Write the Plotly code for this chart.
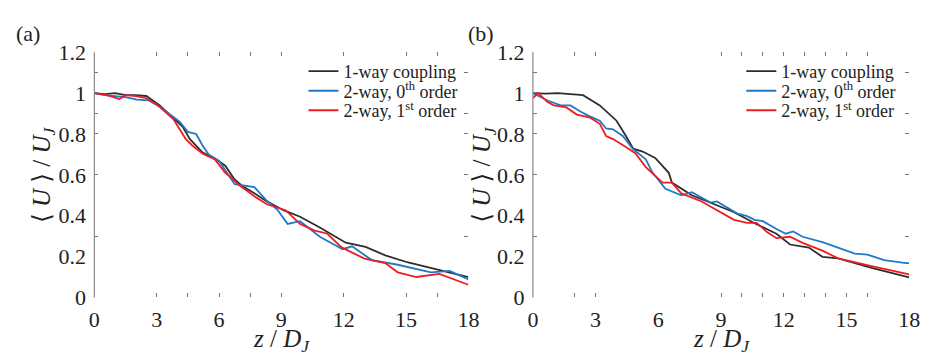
import plotly.graph_objects as go

# ---------------- data ----------------
# Panel (a)
za_black = [0, 0.5, 1.0, 1.5, 2.0, 2.5, 3.15, 3.6, 4.25, 4.6, 5.2, 5.8, 6.3, 6.75, 7.1, 7.7, 8.3, 9.1, 9.9, 10.85, 12.1, 13.05, 14.0, 15.1, 16.2, 17.7, 18.0]
ua_black = [1.0, 0.995, 1.0, 0.99, 0.99, 0.986, 0.94, 0.895, 0.835, 0.775, 0.71, 0.68, 0.645, 0.577, 0.547, 0.51, 0.47, 0.427, 0.395, 0.342, 0.268, 0.247, 0.206, 0.171, 0.145, 0.108, 0.1]

za_blue = [0, 0.5, 1.0, 1.5, 2.05, 2.6, 3.2, 3.8, 4.1, 4.5, 4.9, 5.2, 5.5, 6.0, 6.3, 6.6, 6.75, 7.7, 8.3, 8.8, 9.3, 9.9, 10.85, 11.95, 12.4, 13.35, 14.6, 16.2, 17.1, 18.0]
ua_blue = [1.0, 0.99, 0.985, 0.98, 0.968, 0.965, 0.93, 0.886, 0.86, 0.81, 0.8, 0.745, 0.70, 0.668, 0.62, 0.577, 0.555, 0.54, 0.473, 0.43, 0.36, 0.373, 0.297, 0.236, 0.25, 0.183, 0.16, 0.123, 0.13, 0.088]

za_red = [0, 0.6, 1.2, 1.5, 2.0, 2.5, 3.0, 3.8, 4.4, 4.7, 5.2, 5.8, 6.3, 6.6, 6.9, 7.7, 8.3, 9.2, 9.9, 10.6, 11.2, 11.9, 13.0, 14.0, 14.6, 15.5, 16.6, 17.5, 18.0]
ua_red = [1.0, 0.99, 0.971, 0.99, 0.985, 0.975, 0.945, 0.873, 0.775, 0.745, 0.705, 0.675, 0.61, 0.586, 0.555, 0.495, 0.456, 0.427, 0.36, 0.327, 0.313, 0.245, 0.19, 0.168, 0.123, 0.1, 0.115, 0.08, 0.062]

# Panel (b)
zb_black = [0, 0.6, 1.2, 1.8, 2.4, 3.2, 4.0, 4.45, 4.8, 5.25, 5.85, 6.5, 6.65, 7.6, 8.7, 9.6, 10.7, 11.65, 12.3, 13.2, 13.85, 14.6, 16.2, 17.85, 18.0]
ub_black = [1.0, 0.998, 1.0, 0.995, 0.99, 0.94, 0.865, 0.79, 0.728, 0.714, 0.683, 0.61, 0.562, 0.5, 0.456, 0.418, 0.358, 0.312, 0.259, 0.244, 0.199, 0.191, 0.145, 0.1, 0.098]

zb_blue = [0, 0.7, 1.33, 1.8, 2.27, 2.74, 3.2, 3.5, 3.83, 4.3, 4.77, 5.4, 5.7, 6.34, 7.1, 7.6, 8.5, 8.8, 9.8, 10.25, 10.6, 11.0, 11.65, 12.1, 12.45, 12.9, 13.85, 14.6, 15.4, 16.0, 16.8, 17.85, 18.0]
ub_blue = [1.0, 0.964, 0.94, 0.94, 0.91, 0.885, 0.865, 0.827, 0.823, 0.79, 0.728, 0.676, 0.615, 0.532, 0.5, 0.515, 0.464, 0.47, 0.41, 0.398, 0.38, 0.373, 0.335, 0.312, 0.323, 0.297, 0.271, 0.244, 0.214, 0.21, 0.183, 0.168, 0.168]

zb_red = [0, 0.25, 0.7, 1.0, 1.6, 2.1, 2.74, 3.2, 3.5, 3.83, 4.45, 4.9, 5.4, 5.87, 6.2, 6.65, 7.1, 8.05, 8.84, 9.62, 10.25, 10.7, 11.2, 11.65, 12.3, 12.9, 13.85, 14.6, 16.2, 17.85, 18.0]
ub_red = [0.975, 1.0, 0.956, 0.94, 0.93, 0.895, 0.88, 0.85, 0.79, 0.775, 0.736, 0.706, 0.638, 0.595, 0.562, 0.562, 0.509, 0.471, 0.426, 0.38, 0.365, 0.365, 0.32, 0.29, 0.297, 0.267, 0.229, 0.191, 0.153, 0.115, 0.113]

series_names = ["1-way coupling", "2-way, 0<sup>th</sup> order", "2-way, 1<sup>st</sup> order"]
series_colors = ["#2e2e2e", "#1f78c8", "#ee1d23"]

x_ticks = [0, 3, 6, 9, 12, 15, 18]
y_ticks = [0, 0.2, 0.4, 0.6, 0.8, 1.0, 1.2]
y_ticklabels = ["0", "0.2", "0.4", "0.6", "0.8", "1", "1.2"]
xa_marks = [3, 4.5, 6, 7.5, 9, 12, 15, 16.5]
xb_marks = [2, 3, 9, 10, 11, 12, 13, 14, 15, 16]
y_marks = [0.3, 0.6, 0.8, 0.9, 1.1]

x_title = "<i>z</i> / <i>D</i><sub><i>J</i></sub>"
y_title = "⟨ <i>U</i> ⟩ / <i>U</i><sub><i>J</i></sub>"

# ---------------- figure ----------------
W, H = 930, 356
FONT = "Liberation Serif, Times New Roman, DejaVu Serif, serif"
TXT = "#222222"
fig = go.Figure()

panel_a = [(za_black, ua_black), (za_blue, ua_blue), (za_red, ua_red)]
panel_b = [(zb_black, ub_black), (zb_blue, ub_blue), (zb_red, ub_red)]
row_y = [64, 85, 106]

legends = {}
k = 1
for panel, xa, ya, lx in [(panel_a, "x", "y", 303), (panel_b, "x2", "y2", 749)]:
    for (z, u), name, col, ry in zip(panel, series_names, series_colors, row_y):
        lname = "legend" if k == 1 else f"legend{k}"
        fig.add_trace(go.Scatter(x=z, y=u, mode="lines", name=name,
                                 line=dict(color=col, width=1.8),
                                 xaxis=xa, yaxis=ya, legend=lname))
        legends[lname] = dict(x=lx / W, y=1 - ry / H, xanchor="left", yanchor="middle",
                              bgcolor="rgba(0,0,0,0)", borderwidth=0,
                              font=dict(family=FONT, size=18, color=TXT))
        k += 1

tickfont = dict(family=FONT, size=22, color=TXT)
INVIS = "rgba(0,0,0,0)"

def xaxis(domain, marks, anchor):
    return dict(domain=domain, range=[0, 18], anchor=anchor,
                tickmode="array", tickvals=x_ticks, ticks="",
                showline=True, linecolor=INVIS, linewidth=1,
                showgrid=False, zeroline=False, mirror="ticks",
                tickfont=tickfont, ticklabelstandoff=2,
                minor=dict(tickmode="array", tickvals=marks, ticks="inside",
                           ticklen=4, tickcolor="#777777", tickwidth=1))

def yaxis(anchor):
    return dict(domain=[1 - 307 / H, 1 - 43.3 / H], range=[0, 1.2], anchor=anchor,
                tickmode="array", tickvals=y_ticks, ticktext=y_ticklabels, ticks="",
                showline=True, linecolor=INVIS, linewidth=1,
                showgrid=False, zeroline=False, mirror="ticks",
                tickfont=tickfont, ticklabelstandoff=3,
                minor=dict(tickmode="array", tickvals=y_marks, ticks="inside",
                           ticklen=4, tickcolor="#777777", tickwidth=1))

fig.update_layout(
    width=W, height=H, margin=dict(l=0, r=0, t=0, b=0),
    paper_bgcolor="white", plot_bgcolor="white",
    xaxis=xaxis([90 / W, 471 / W], xa_marks, "y"),
    yaxis=yaxis("x"),
    xaxis2=xaxis([536.7 / W, 920 / W], xb_marks, "y2"),
    yaxis2=yaxis("x2"),
    showlegend=True,
    **legends,
)

# left axis lines only
for xr, yr in [("x domain", "y domain"), ("x2 domain", "y2 domain")]:
    fig.add_shape(type="line", xref=xr, yref=yr, x0=0, x1=0, y0=0, y1=1,
                  line=dict(color="#888888", width=1.2))

# axis titles
for xc in [281, 729]:
    fig.add_annotation(text=x_title, xref="paper", yref="paper", x=xc / W, y=1 - 334 / H,
                       xanchor="center", yanchor="top", showarrow=False,
                       font=dict(family=FONT, size=25, color=TXT))
for xc in [38, 487]:
    fig.add_annotation(text=y_title, xref="paper", yref="paper", x=xc / W, y=1 - 175 / H,
                       xanchor="center", yanchor="middle", showarrow=False, textangle=-90,
                       font=dict(family=FONT, size=25, color=TXT))

# panel labels
for txt, xp in [("(a)", 8), ("(b)", 469)]:
    fig.add_annotation(text=txt, xref="paper", yref="paper", x=xp / W, y=1 - 8 / H,
                       xanchor="left", yanchor="top", showarrow=False,
                       font=dict(family=FONT, size=22, color=TXT))

fig.write_html("out.html")
